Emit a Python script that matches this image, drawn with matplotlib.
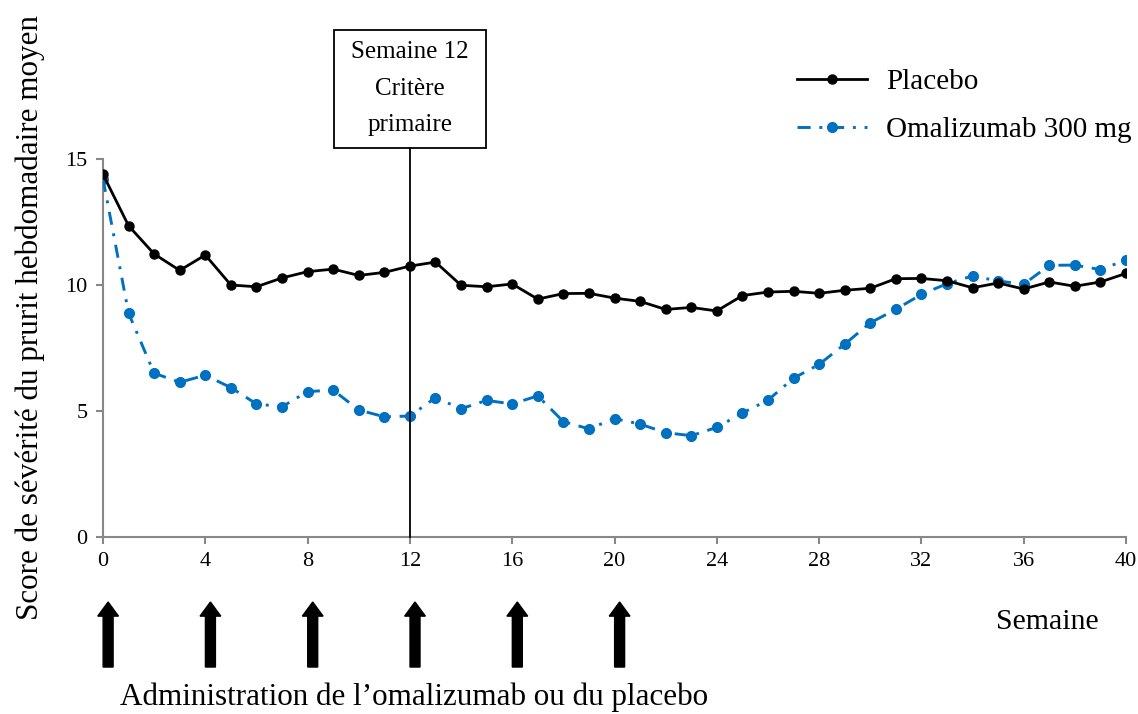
import matplotlib
matplotlib.use("Agg")
import matplotlib.pyplot as plt
from matplotlib.patches import Rectangle, FancyArrow
import numpy as np

weeks = list(range(0, 41))
placebo = [14.39, 12.35, 11.23, 10.58, 11.19, 10.00, 9.93, 10.28, 10.53, 10.63,
           10.38, 10.50, 10.75, 10.91, 9.99, 9.93, 10.04, 9.44, 9.66, 9.67,
           9.48, 9.35, 9.03, 9.11, 8.97, 9.58, 9.72, 9.75, 9.67, 9.79,
           9.87, 10.25, 10.26, 10.17, 9.89, 10.08, 9.84, 10.12, 9.95, 10.12,
           10.46]
omalizumab = [14.21, 8.88, 6.50, 6.14, 6.42, 5.93, 5.28, 5.17, 5.77, 5.83,
              5.04, 4.77, 4.80, 5.53, 5.09, 5.42, 5.28, 5.60, 4.58, 4.29,
              4.70, 4.48, 4.14, 4.02, 4.35, 4.92, 5.43, 6.30, 6.85, 7.65,
              8.50, 9.03, 9.63, 10.05, 10.36, 10.16, 10.03, 10.78, 10.79, 10.61,
              10.99]
xticks = list(range(0, 41, 4))
yticks = [0, 5, 10, 15]
dose_weeks = [0, 4, 8, 12, 16, 20]
series_names = ["Placebo", "Omalizumab 300 mg"]

plt.rcParams['font.family'] = ['Liberation Serif', 'DejaVu Serif']

W, H = 1138, 714
fig = plt.figure(figsize=(W / 100, H / 100), dpi=100)
ax = fig.add_axes([103 / W, 1 - 537 / H, (1126 - 103) / W, (537 - 159) / H])

blue = '#0070C0'
ax.plot(weeks, placebo, color='black', lw=2.0, marker='o', ms=6.5,
        label=series_names[0], zorder=4)
ax.plot(weeks, omalizumab, color=blue, lw=2.1, linestyle=(0, (4.5, 3, 1, 3)),
        marker='o', ms=7, label=series_names[1], zorder=3)

ax.set_xlim(0, 40)
ax.set_ylim(0, 15)
ax.set_xticks(xticks)
ax.set_yticks(yticks)
for s in ['top', 'right']:
    ax.spines[s].set_visible(False)
for s in ['left', 'bottom']:
    ax.spines[s].set_color('#888888')
    ax.spines[s].set_linewidth(1.5)
ax.tick_params(axis='both', direction='out', length=5, width=1.5,
               color='#888888', labelsize=16, pad=6)

# Week 12 marker: vertical line and box
box_bottom, box_top = 15.44, 20.12
box_half = 2.97
ax.plot([12, 12], [0, box_bottom], color='black', lw=1.3, clip_on=False, zorder=5)
ax.add_patch(Rectangle((12 - box_half, box_bottom), 2 * box_half, box_top - box_bottom,
                       facecolor='white', edgecolor='black', lw=1.3, clip_on=False))
ax.text(12, (box_bottom + box_top) / 2, "Semaine 12\nCritère\nprimaire",
        ha='center', va='center', fontsize=18, linespacing=1.85)

# Dosing arrows
for w in dose_weeks:
    ax.add_patch(FancyArrow(w + 0.2, -5.16, 0, 2.58, width=0.39, head_width=0.81,
                            head_length=0.56, length_includes_head=True,
                            color='black', clip_on=False))

leg = ax.legend(loc='upper left', bbox_to_anchor=(797 / W, 1 - 69 / H),
                bbox_transform=fig.transFigure, frameon=False, fontsize=21,
                handlelength=2.4, handletextpad=0.65, labelspacing=0.72,
                borderpad=0, borderaxespad=0)

fig.text(30 / W, 1 - 318 / H, "Score de sévérité du prurit hebdomadaire moyen",
         rotation=90, ha='center', va='center', fontsize=22.4)
fig.text(1047 / W, 1 - 622 / H, "Semaine", ha='center', va='center', fontsize=21.5)
fig.text(120 / W, 1 - 697 / H, "Administration de l\u2019omalizumab ou du placebo",
         ha='left', va='center', fontsize=22.4)

fig.savefig("out.png", dpi=100)
